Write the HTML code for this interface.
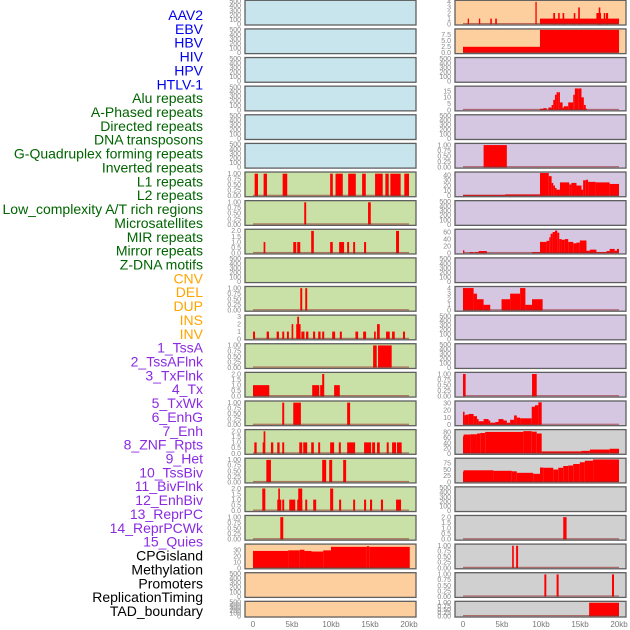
<!DOCTYPE html>
<html><head><meta charset="utf-8">
<style>
body{margin:0;background:#fff;width:630px;height:630px;overflow:hidden}
svg{display:block}
.lab{font-family:"Liberation Sans",sans-serif;font-size:14px}
.tk{font-family:"Liberation Sans",sans-serif;font-size:7px;fill:#888}
.xt{font-family:"Liberation Sans",sans-serif;font-size:8px;fill:#777}
</style></head><body>
<svg id="chart" width="630" height="630">
<g id="labels"></g>
<g id="panels"></g>
<g id="xaxis"></g>
</svg>
<script>
const labelNames = ["AAV2","EBV","HBV","HIV","HPV","HTLV-1","Alu repeats","A-Phased repeats","Directed repeats","DNA transposons","G-Quadruplex forming repeats","Inverted repeats","L1 repeats","L2 repeats","Low_complexity A/T rich regions","Microsatellites","MIR repeats","Mirror repeats","Z-DNA motifs","CNV","DEL","DUP","INS","INV","1_TssA","2_TssAFlnk","3_TxFlnk","4_Tx","5_TxWk","6_EnhG","7_Enh","8_ZNF_Rpts","9_Het","10_TssBiv","11_BivFlnk","12_EnhBiv","13_ReprPC","14_ReprPCWk","15_Quies","CPGisland","Methylation","Promoters","ReplicationTiming","TAD_boundary"];
const labelColors = ["#0000ee","#006400","#ffa500","#8a2be2","#000000"];
const labelGroupSizes = [6,13,5,15,5];
const xTickLabels = ["0","5kb","10kb","15kb","20kb"];
const xTickValues = [0,5,10,15,20];

const T500=["0","100","200","300","400","500"];
const T1=["0.00","0.25","0.50","0.75","1.00"];
const T2=["0.0","0.5","1.0","1.5","2.0"];
const T3=["0","1","2","3"];
const T4=["0","1","2","3","4"];
const bgLeft = ["b","b","b","b","b","b","g","g","g","g","g","g","g","g","g","g","g","g","g","o","o","o"];
const bgRight = ["o","o","p","p","p","p","p","p","p","p","p","p","p","p","p","y","y","y","y","y","y","y"];
const ticksLeft = [T500,T500,T500,T500,T500,T500,T1,T1,T2,T500,T1,T3,T1,T2,T1,T2,T1,T2,T1,["0","10","20","30"],T500,T500];
const ticksRight = [T4,["0.0","2.5","5.0","7.5"],T500,["0","5","10","15"],T500,T1,["0","10","20","30","40"],T500,["0","20","40","60"],T500,T4,T500,T500,T1,["0","10","20","30"],["0","20","40","60","80"],["0","25","50","75"],T500,T2,T1,T1,T1];
const ymaxLeft = [500,500,500,500,500,500,1.03,1.03,2.06,500,1.03,3.08,1.03,2.06,1.03,2.06,1.03,2.06,1.03,39,500,500];
const ymaxRight = [4.1,9.5,500,18,500,1.03,44,500,65,500,4.1,500,500,1.03,31.5,87,91,500,2.06,1.03,1.03,1.03];

// segments [startKb, endKb, value]
const segL = [];
segL[6] = [[0.21,0.64,1],[1.36,1.79,1],[3.8,4.39,1],[9.89,10.23,1],[10.58,11.51,1],[12.2,13.18,1],[13.99,14.46,1],[15.65,16.63,1],[16.97,17.4,1],[17.61,18.93,1],[19.4,20,1]];
segL[7] = [[6.57,6.82,1],[14.75,15.1,1]];
segL[8] = [[1.36,1.58,1],[5.16,5.54,1],[5.67,6.06,1],[7.46,7.8,2],[9.89,10.23,1],[11.04,11.68,1],[12.07,12.32,1],[12.84,13.09,1],[14.24,14.5,1],[18.34,18.72,2]];
segL[10] = [[6.06,6.31,1],[6.7,6.95,1]];
segL[11] = [[0,0.26,1],[1.75,2.05,1],[3.03,3.33,1],[3.75,4.0,1],[4.35,4.6,1],[4.95,5.16,2],[5.54,5.8,2],[5.67,5.9,3],[5.8,6.1,2],[6.2,6.6,1],[6.8,7.1,1],[7.7,7.97,1],[8.36,8.66,1],[8.87,9.13,1],[10.15,10.53,1],[11.13,11.39,1],[13.13,13.48,1],[14.12,14.5,1],[15.52,15.74,1],[15.9,16.25,2],[17.06,17.53,1],[17.83,18.17,1],[19.23,19.49,1]];
segL[12] = [[15.4,15.86,1],[16.03,17.78,1]];
segL[13] = [[0,2.09,1],[7.59,8.49,1],[8.61,9.08,1],[8.87,9.13,2],[10.4,11.13,1]];
segL[14] = [[3.75,4.0,1],[5.16,6.14,1],[12.07,12.45,1]];
segL[15] = [[0.17,0.47,1],[1.24,1.54,1],[1.36,1.58,2],[2.3,2.6,1],[3.11,3.41,1],[3.75,4.0,1],[5.93,6.31,1],[6.44,6.95,1],[7.46,7.8,1],[8.36,8.61,1],[9.89,10.4,1],[11.0,11.26,1],[12.07,13.09,1],[14.24,15.14,1],[15.27,15.65,1],[15.9,16.25,1],[17.14,17.4,1],[17.83,18.34,1],[18.46,19.06,1]];
segL[16] = [[1.71,2.3,1],[8.87,9.38,1],[9.77,10.15,1],[11.56,11.94,1]];
segL[17] = [[1.19,1.58,2],[3.11,3.62,1],[3.24,3.45,2],[3.75,4.0,1],[4.65,5.42,1],[5.67,6.31,1],[5.8,6.31,2],[6.7,6.95,1],[7.72,8.1,1],[9.89,10.28,2],[11.04,11.3,1],[12.84,13.09,1],[14.24,14.5,1],[15.0,15.27,1],[16.4,16.67,1],[18.34,18.98,1]];
segL[18] = [[3.5,3.88,1]];
segL[19] = [[0,4.5,29],[4.5,5,30],[5,6,30],[6,6.6,31],[6.6,7.5,29],[7.5,9,28],[9,10,30],[10,14.6,36],[14.6,14.9,37],[14.9,20.1,36]];

const segR = [];
segR[0] = [[9.87,20,1],[0.6,0.72,1],[2.04,2.17,1],[3.5,3.7,1],[4.13,4.34,1],[9.28,9.45,4],[11.57,11.8,2],[12.2,12.4,2],[12.77,12.98,2],[14.2,14.4,2],[14.77,14.98,3],[17.1,17.7,2],[17.4,17.6,3],[18.04,18.2,2],[18.3,18.6,2]];
segR[1] = [[0,9.87,2.5],[9.87,20,9.5]];
segR[3] = [[9.87,10.3,1],[10.3,10.72,1.5],[10.94,11.36,2],[11.36,11.57,4],[11.57,11.79,8],[11.79,12.0,12],[12.0,12.21,14],[12.21,12.43,14],[12.43,12.77,6],[12.77,12.94,2],[12.94,13.49,3],[13.49,14.13,6],[14.13,14.34,12],[14.34,14.77,17],[14.77,15.19,17],[15.19,15.49,10],[15.49,15.74,4],[15.74,15.83,1]];
segR[5] = [[2.64,5.62,1]];
segR[6] = [[0,5.4,2],[5.4,9.87,3],[9.87,11.0,44],[11.0,11.36,38],[11.36,11.57,25],[11.57,11.79,20],[11.79,12.0,15],[12.0,12.43,12],[12.43,13.62,26],[13.62,13.9,22],[13.9,14.55,25],[14.55,15.19,20],[15.19,15.4,12],[15.4,15.74,30],[15.74,16.04,31],[16.04,17.0,27],[17.0,18.8,26],[18.8,20,23]];
segR[8] = [[0,0.17,8],[0.85,1.36,3],[1.49,2.0,3],[2.0,3.06,6],[8.85,9.87,3],[9.87,10.72,32],[10.72,11.06,35],[11.06,11.23,45],[11.23,11.49,55],[11.49,11.79,60],[11.79,12.09,64],[12.09,12.34,58],[12.34,12.64,40],[12.64,13.06,38],[13.06,13.49,40],[13.49,14.13,32],[14.13,14.55,28],[14.55,14.98,30],[14.98,15.32,36],[15.32,15.83,36],[15.83,16.26,7],[16.26,17.1,10],[17.1,18.4,3],[18.4,18.8,6],[18.8,19.45,12],[19.45,19.74,7],[19.74,20,12]];
segR[10] = [[0,1.36,4],[1.36,1.79,3],[1.79,2.64,2],[2.64,3.49,1],[4.94,6.04,2],[6.04,7.32,3],[7.32,8.0,4],[8.0,8.85,1],[8.85,10.21,2]];
segR[13] = [[0,0.34,1],[8.85,9.45,1]];
segR[14] = [[0,0.2,18],[0.2,0.3,13],[0.3,0.72,14],[0.72,1.36,15],[1.36,1.79,12],[1.79,2.0,8],[2.0,2.64,5],[2.64,3.28,8],[3.28,3.49,6],[3.49,4.13,3],[4.13,4.55,4],[4.55,5.19,8],[5.19,5.62,6],[5.62,6.04,3],[6.04,6.55,7],[6.55,6.89,13],[6.89,7.32,10],[7.32,8.81,9],[8.81,9.23,25],[9.23,9.66,27],[9.66,10.09,31]];
segR[15] = [[0,0.08,65],[0.08,0.94,72],[0.94,1.79,73],[1.79,2.21,76],[2.21,2.85,78],[2.85,7.74,82],[7.74,8.81,85],[8.81,9.45,83],[9.45,10.09,76],[10.09,15.19,8],[15.19,16.26,10],[16.26,18.8,15],[18.8,20,18]];
segR[16] = [[0,0.08,42],[0.08,3.9,47],[3.9,6.26,45],[6.26,6.9,43],[6.9,9.0,37],[9.0,9.87,33],[9.87,10.3,58],[10.3,11.57,57],[11.57,12.21,50],[12.21,12.85,57],[12.85,13.49,64],[13.49,14.13,66],[14.13,14.98,72],[14.98,15.62,79],[15.62,16.68,85],[16.68,20,90]];
segR[18] = [[12.85,13.28,2]];
segR[19] = [[6.3,6.51,1],[6.81,7.06,1]];
segR[20] = [[10.43,10.68,1],[12.0,12.26,1],[19.1,19.36,1]];
segR[21] = [[16.17,20,1]];

const NS="http://www.w3.org/2000/svg";
const bgColors={b:"#c8e4ec",g:"#c9e1a6",o:"#fecf9e",p:"#d5c6e2",y:"#d0d0d0"};
function mk(tag,attrs,parent){const e=document.createElementNS(NS,tag);for(const k in attrs)e.setAttribute(k,attrs[k]);parent.appendChild(e);return e;}

const lg=document.getElementById("labels");
let gi=0,cnt=0;
labelNames.forEach((n,i)=>{
  if(cnt>=labelGroupSizes[gi]){gi++;cnt=0;}
  cnt++;
  const t=mk("text",{x:203,y:20+i*13.86,"text-anchor":"end",class:"lab",fill:labelColors[gi]},lg);
  t.textContent=n;
  
  
});

const pg=document.getElementById("panels");
const cols=[{x0:245,x1:416,z:253,bg:bgLeft,ticks:ticksLeft,ymax:ymaxLeft,segs:segL,side:"left"},
            {x0:455,x1:626,z:463,bg:bgRight,ticks:ticksRight,ymax:ymaxRight,segs:segR,side:"right"}];
const KB=7.8;
cols.forEach(c=>{
  for(let r=0;r<22;r++){
    const top=r*28.62+0.3;
    const h=(r===21)?15.7:24.7;
    const g=mk("g",{},pg);
    
    
    mk("rect",{x:c.x0,y:top,width:c.x1-c.x0,height:h,fill:bgColors[c.bg[r]],stroke:"#5f5f5f","stroke-width":1.3},g);
    const bottom=top+h-0.8;
    const ih=h-1.8;
    const ymax=c.ymax[r];
    const ys=v=>bottom-v/ymax*ih;
    const xs=k=>c.z+k*KB;
    const tk=c.ticks[r];
    tk.forEach(s=>{
      const v=parseFloat(s);
      const t=mk("text",{x:c.x0-4,y:ys(v)+2.3,"text-anchor":"end",class:"tk"},g);
      t.textContent=s;
      
      
    });
    const segs=c.segs[r];
    if(segs){
      segs.forEach(sg=>{
        const x=xs(Math.max(0,sg[0])),w=Math.max(1.3,xs(sg[1])-xs(Math.max(0,sg[0])));
        const y=ys(sg[2]);
        const b=mk("rect",{x:x,y:y,width:w,height:bottom-y,fill:"#ff0000"},g);
        
        
      });
      const bl=mk("rect",{x:xs(0),y:bottom-1.2,width:20*KB,height:1.2,fill:"rgba(150,40,40,0.6)"},g);
      
      
    }
  }
});

const xg=document.getElementById("xaxis");
cols.forEach(c=>{
  xTickValues.forEach((v,i)=>{
    const t=mk("text",{x:c.z+v*KB,y:627,"text-anchor":"middle",class:"xt"},xg);
    t.textContent=xTickLabels[i];
    
    
  });
});
</script>
</body></html>
